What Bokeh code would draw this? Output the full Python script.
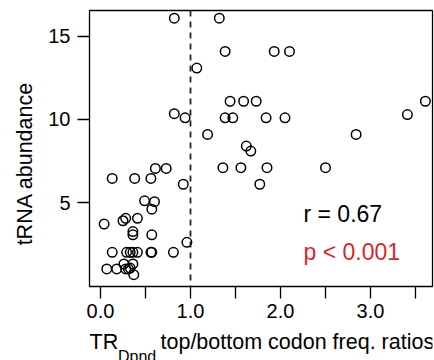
import math
from bokeh.plotting import figure
from bokeh.models import Range1d, FixedTicker, Span, Label
from bokeh.layouts import row, column
from bokeh.embed import file_html
from bokeh.resources import INLINE

# ---- data ----
tr_ratio = [0.82, 1.32, 1.385, 1.93, 2.10, 1.07, 1.44, 1.59, 1.73, 3.61,
            0.82, 0.94, 1.385, 1.47, 1.84, 2.05, 3.41, 1.19, 2.84, 1.62,
            1.67, 1.36, 1.56, 1.85, 2.50, 0.61, 0.73, 0.92, 1.77, 0.13,
            0.38, 0.56, 0.49, 0.60, 0.57, 0.04, 0.25, 0.28, 0.41, 0.36,
            0.36, 0.57, 0.96, 0.13, 0.29, 0.33, 0.36, 0.41, 0.56, 0.57,
            0.81, 0.07, 0.18, 0.26, 0.28, 0.31, 0.33, 0.36, 0.37]
trna_abundance = [16.1, 16.1, 14.1, 14.1, 14.1, 13.1, 11.1, 11.1, 11.1, 11.1,
                  10.35, 10.1, 10.1, 10.1, 10.1, 10.1, 10.3, 9.1, 9.1, 8.4,
                  8.1, 7.1, 7.1, 7.1, 7.1, 7.05, 7.05, 6.1, 6.1, 6.45,
                  6.45, 6.45, 5.1, 5.05, 4.6, 3.7, 3.9, 4.05, 4.05, 3.25,
                  3.05, 3.05, 2.6, 2.0, 2.0, 2.0, 2.0, 2.0, 2.0, 2.0,
                  2.0, 1.0, 1.0, 1.3, 1.0, 1.0, 1.05, 1.3, 0.65]
x_ticks = [0, 1, 2, 3]
x_minor_ticks = [0.5, 1.5, 2.5, 3.5]
x_tick_labels = ["0.0", "1.0", "2.0", "3.0"]
y_ticks = [5, 10, 15]
threshold = 1.0
r_text = "r = 0.67"
p_text = "p < 0.001"
y_title = "tRNA abundance"
x_title_main = "TR"
x_title_sub = "Dpnd"
x_title_rest = "top/bottom codon freq. ratios"

FONT = "Liberation Sans"
LEFT_W = 44          # width of the strip holding the y title
MAIN_H = 330         # height of the main plot canvas
BORDER_L = 89 - LEFT_W
BORDER_R = 2


def blank_fig(w, h, bl=0, br=0):
    f = figure(width=w, height=h, output_backend="svg", toolbar_location=None,
               x_range=Range1d(0, w - bl - br), y_range=Range1d(0, h),
               x_axis_location=None, y_axis_location=None,
               min_border=0, min_border_left=bl, min_border_right=br,
               min_border_top=0, min_border_bottom=0)
    f.outline_line_color = None
    f.xgrid.visible = False
    f.ygrid.visible = False
    f.background_fill_color = "white"
    f.border_fill_color = "white"
    return f


# ---- main plot ----
p = figure(width=434 - LEFT_W, height=MAIN_H, output_backend="svg", toolbar_location=None,
           x_range=Range1d(-0.1222, 3.6889), y_range=Range1d(-0.060, 16.566),
           min_border_left=BORDER_L, min_border_right=BORDER_R, min_border_top=10,
           min_border_bottom=MAIN_H - 286)
p.background_fill_color = "white"
p.border_fill_color = "white"
p.outline_line_color = "black"
p.outline_line_width = 1.3
p.xgrid.visible = False
p.ygrid.visible = False

for ax in (p.xaxis[0], p.yaxis[0]):
    ax.axis_line_color = None
    ax.major_tick_in = 0
    ax.major_tick_out = 12
    ax.minor_tick_in = 0
    ax.minor_tick_out = 12
    ax.major_tick_line_color = "black"
    ax.minor_tick_line_color = "black"
    ax.major_tick_line_width = 1.3
    ax.minor_tick_line_width = 1.3
    ax.major_label_text_font = FONT
    ax.major_label_text_font_size = "20px"
    ax.major_label_text_color = "black"

p.xaxis.ticker = FixedTicker(ticks=x_ticks, minor_ticks=x_minor_ticks)
p.xaxis.major_label_overrides = {t: lab for t, lab in zip(x_ticks, x_tick_labels)}
p.xaxis.major_label_standoff = 5
p.yaxis.ticker = FixedTicker(ticks=y_ticks, minor_ticks=[])
p.yaxis.major_label_standoff = 7

p.add_layout(Span(location=threshold, dimension="height", line_color="#222222",
                  line_width=1.8, line_dash="6 5"))

p.scatter(tr_ratio, trna_abundance, marker="circle", size=9.5,
          fill_color=None, line_color="black", line_width=1.5)

p.add_layout(Label(x=214, y=73, x_units="screen", y_units="screen", text=r_text,
                   text_font=FONT, text_font_size="23px", text_color="black",
                   text_baseline="alphabetic", text_align="left"))
p.add_layout(Label(x=214, y=34.5, x_units="screen", y_units="screen", text=p_text,
                   text_font=FONT, text_font_size="23px", text_color="#D8272D",
                   text_baseline="alphabetic", text_align="left"))

# ---- y title strip ----
fy = blank_fig(LEFT_W, 360)
fy.add_layout(Label(x=24, y=360 - 163, text=y_title, angle=math.pi / 2,
                    text_font=FONT, text_font_size="21.5px", text_color="black",
                    text_align="center", text_baseline="middle"))

# ---- x title strip (frame lined up with the main plot's frame) ----
XH = 360 - MAIN_H
fx = blank_fig(434 - LEFT_W, XH, bl=BORDER_L, br=BORDER_R)
fx.add_layout(Label(x=0, y=19, text=x_title_main,
                    text_font=FONT, text_font_size="21.5px", text_color="black",
                    text_baseline="alphabetic", text_align="left"))
fx.add_layout(Label(x=28.5, y=4, text=x_title_sub,
                    text_font=FONT, text_font_size="16px", text_color="black",
                    text_baseline="alphabetic", text_align="left"))
fx.add_layout(Label(x=71, y=19, text=x_title_rest,
                    text_font=FONT, text_font_size="21.5px", text_color="black",
                    text_baseline="alphabetic", text_align="left"))

layout = row(fy, column(p, fx, spacing=0), spacing=0)
open("out.html", "w").write(file_html(layout, INLINE))
